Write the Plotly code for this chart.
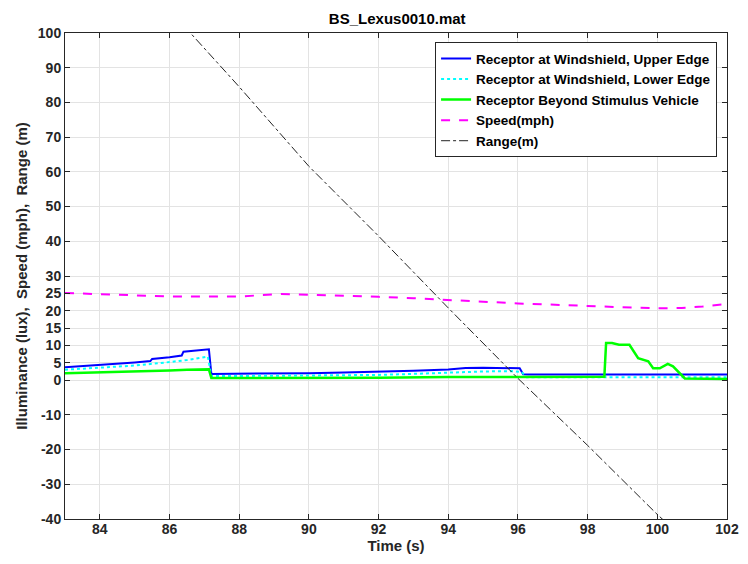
import plotly.graph_objects as go

# ---- data ----
t_upper = [83, 83.5, 84, 84.5, 85, 85.45, 85.5, 86, 86.35, 86.4, 86.8, 87.13, 87.2, 87.5, 88, 88.5, 88.7, 89,
           90, 91, 92, 93, 94, 94.5, 95, 95.5, 95.8, 96.05, 96.15, 96.3, 97, 98, 99, 100, 101, 102]
upper = [3.7, 4.0, 4.3, 4.7, 5.1, 5.5, 6.1, 6.6, 7.1, 8.2, 8.6, 8.9, 1.8, 1.8, 1.8, 2.0, 1.8, 1.8,
         2.0, 2.2, 2.4, 2.7, 3.1, 3.5, 3.6, 3.6, 3.4, 3.4, 1.7, 1.6, 1.6, 1.6, 1.6, 1.6, 1.6, 1.6]

t_lower = [83, 84, 85, 86, 86.5, 87.1, 87.2, 88, 90, 92, 93, 94, 95, 95.8, 96.1, 96.25, 97, 98, 100, 102]
lower = [3.0, 3.5, 4.2, 5.2, 5.8, 6.8, 1.2, 1.2, 1.3, 1.5, 1.8, 2.2, 2.5, 2.6, 2.4, 0.8, 0.8, 0.8, 0.8, 0.8]

t_beyond = [83, 83.5, 84, 84.5, 85, 85.5, 86, 86.5, 87.13, 87.2, 88, 88.5, 89, 90, 92, 94, 96, 98, 98.48,
            98.53, 98.7, 98.9, 99.2, 99.45, 99.6, 99.74, 99.88, 100.07, 100.3, 100.45, 100.79, 101.5, 102]
beyond = [2.0, 2.1, 2.3, 2.5, 2.6, 2.6, 2.8, 3.0, 3.1, 0.6, 0.6, 0.8, 0.6, 0.6, 0.7, 0.9, 1.0, 1.0, 1.0,
          10.7, 10.7, 10.2, 10.2, 6.3, 5.8, 5.4, 3.4, 3.4, 4.7, 4.0, 0.5, 0.5, 0.3]

t_speed = [83, 84, 85, 86, 87, 88, 89.2, 90, 91, 92, 93, 94, 95, 96, 97, 98, 99, 100, 100.7, 101.3, 102]
speed = [25.1, 24.8, 24.5, 24.1, 24.1, 24.1, 24.8, 24.6, 24.3, 24.0, 23.6, 23.0, 22.6, 22.1, 21.7, 21.2, 21.0,
         20.7, 20.8, 21.2, 22.0]

t_range = [83, 86.6, 88, 90, 92, 94, 96, 98, 100, 102]
rng = [141, 100, 84.5, 61.6, 41.5, 20.8, 0.5, -18.8, -38.7, -57]

y_ticks = [-40, -30, -20, -10, 0, 5, 10, 15, 20, 25, 30, 40, 50, 60, 70, 80, 90, 100]
x_ticks = [84, 86, 88, 90, 92, 94, 96, 98, 100, 102]

FONT = "Liberation Sans, Arial, sans-serif"

fig = go.Figure()
fig.add_trace(go.Scatter(x=t_upper, y=upper, mode="lines", name="<b>Receptor at Windshield, Upper Edge</b>",
                         line=dict(color="#0000ff", width=2)))
fig.add_trace(go.Scatter(x=t_lower, y=lower, mode="lines", name="<b>Receptor at Windshield, Lower Edge</b>",
                         line=dict(color="#00ffff", width=2, dash="dot")))
fig.add_trace(go.Scatter(x=t_beyond, y=beyond, mode="lines", name="<b>Receptor Beyond Stimulus Vehicle</b>",
                         line=dict(color="#00ff00", width=2.5)))
fig.add_trace(go.Scatter(x=t_speed, y=speed, mode="lines", name="<b>Speed(mph)</b>",
                         line=dict(color="#ff00ff", width=2, dash="dash")))
fig.add_trace(go.Scatter(x=t_range, y=rng, mode="lines", name="<b>Range(m)</b>",
                         line=dict(color="#222222", width=1, dash="dashdot")))

axis_common = dict(showline=True, linecolor="#262626", linewidth=1, mirror="ticks",
                   ticks="inside", ticklen=5, tickcolor="#262626",
                   showgrid=True, gridcolor="#e3e3e3", gridwidth=1, zeroline=False,
                   tickfont=dict(family=FONT, size=14, color="#262626"))

# page body has an 8px margin, so the figure is offset by 8px
fig.update_layout(
    width=740, height=556,
    paper_bgcolor="white", plot_bgcolor="white",
    margin=dict(l=57, r=21, t=25, b=45, autoexpand=False),
    title=dict(text="<b>BS_Lexus0010.mat</b>", x=0.526, xanchor="center", y=0.99, yanchor="top",
               pad=dict(t=0, b=0), font=dict(family=FONT, size=15, color="#000000")),
    xaxis=dict(range=[83, 102], tickvals=x_ticks, ticktext=[f"<b>{v}</b>" for v in x_ticks],
               ticklabelstandoff=-3,
               title=dict(text="<b>Time (s)</b>", font=dict(family=FONT, size=15, color="#262626"), standoff=4),
               automargin=False, **axis_common),
    yaxis=dict(range=[-40, 100], tickvals=y_ticks, ticktext=[f"<b>{v}</b>" for v in y_ticks],
               title=dict(text="<b>Illuminance (lux),  Speed (mph),  Range (m)</b>",
                          font=dict(family=FONT, size=15, color="#262626"), standoff=6),
               automargin=False, **axis_common),
    legend=dict(x=0.985, xanchor="right", y=0.981, yanchor="top", bgcolor="white",
                bordercolor="#262626", borderwidth=1, font=dict(family=FONT, size=13.5, color="#000000"),
                tracegroupgap=0, itemwidth=30),
    showlegend=True,
)

fig.write_html("out.html")
